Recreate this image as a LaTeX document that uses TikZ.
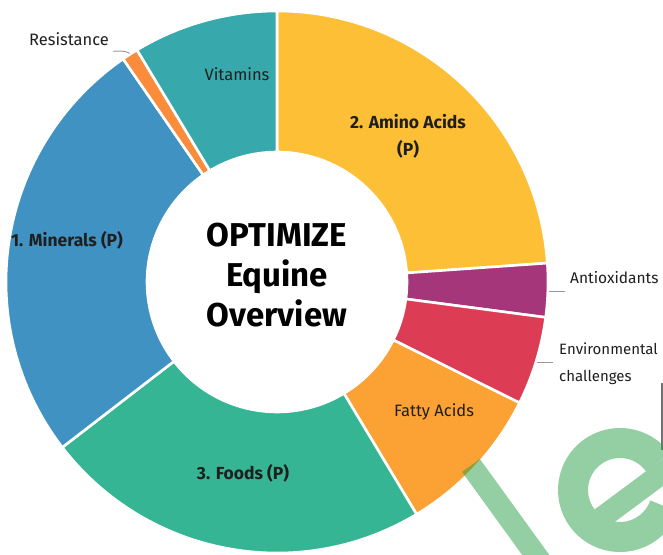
\documentclass[tikz,border=0pt]{standalone}
\usepackage{fontspec}
\setmainfont{Fira Sans}
\usetikzlibrary{positioning}
\definecolor{minblue}{HTML}{4092C3}
\definecolor{vitteal}{HTML}{37A8AB}
\definecolor{aminoyel}{HTML}{FDBF35}
\definecolor{antipurp}{HTML}{A5367A}
\definecolor{envred}{HTML}{DC3D54}
\definecolor{fattyorg}{HTML}{FCA134}
\definecolor{foodgreen}{HTML}{35B594}
\definecolor{resorg}{HTML}{FA8C3C}
\definecolor{wmgreen}{RGB}{40,160,70}

\begin{document}
\begin{tikzpicture}[x=1pt, y=1pt,
    slice/.style={draw=white, line width=2.6pt},
    lbl/.style={inner sep=0pt, text=black!88, font=\fontsize{16.5}{27}\selectfont},
    blbl/.style={lbl, font=\fontsize{17.5}{27}\selectfont\bfseries},
    leader/.style={draw=black!40, line width=0.9pt}]
  \useasboundingbox (-277,-272) rectangle (386,282);
  \clip (-277,-272) rectangle (386,282);
  % donut slices
  \foreach \a/\b/\c in {90/4/aminoyel, 4/-7.5/antipurp, -7.5/-26.5/envred,
      -26.5/-59/fattyorg, -59/-142.4/foodgreen, 217.6/124.6/minblue,
      124.6/121.1/resorg, 121.1/90/vitteal}
    \filldraw[slice, fill=\c] (\a:271) arc[start angle=\a, end angle=\b, radius=271]
      -- (\b:130) arc[start angle=\b, end angle=\a, radius=130] -- cycle;
  % centre title
  \node[align=center, inner sep=0pt, font=\fontsize{33}{40}\selectfont\bfseries] (title) at (0,7)
    {OPTIMIZE\\Equine\\Overview};
  % labels
  \node[lbl] (vit) at (-40,208) {Vitamins};
  \node[blbl, align=center] (amino) at (131,146) {2. Amino Acids\\(P)};
  \node[blbl] (minerals) at (-210,42) {1. Minerals (P)};
  \node[blbl] (foods) at (-34,-191) {3. Foods (P)};
  \node[lbl] (fatty) at (157,-130) {Fatty Acids};
  \node[lbl] (resist) at (-208,242.5) {Resistance};
  \node[lbl, anchor=west, font=\fontsize{15.5}{27}\selectfont] (antiox) at (293,4) {Antioxidants};
  \node[lbl, anchor=west, align=left, font=\fontsize{15}{27}\selectfont] (envir) at (282,-81.5)
    {Environmental\\challenges};
  % leaders
  \coordinate (rtip) at (122.8:272);
  \coordinate (atip) at (-1.9:272);
  \coordinate (etip) at (-17.1:272);
  \draw[leader] ([shift={(4,-5)}]resist.south east) to[out=0, in=150] (rtip);
  \draw[leader] (atip) -- ([xshift=-5pt]atip -| antiox.west);
  \draw[leader] (etip) -- ([xshift=-6pt]etip -| envir.west);
  % edge mark
  \draw[black!55, line width=1.2pt] (385,-101) -- (385,-168);
  % watermark letters
  \begin{scope}[transparency group, opacity=0.5]
    \draw[wmgreen, line width=22] (194,-183.5) -- (274,-294);
    \draw[wmgreen, line width=30] (343,-208) ++(36:47) arc[start angle=36, end angle=340, radius=47];
    \draw[wmgreen, line width=22] (307,-249) -- (400,-180);
  \end{scope}
\end{tikzpicture}
\end{document}
